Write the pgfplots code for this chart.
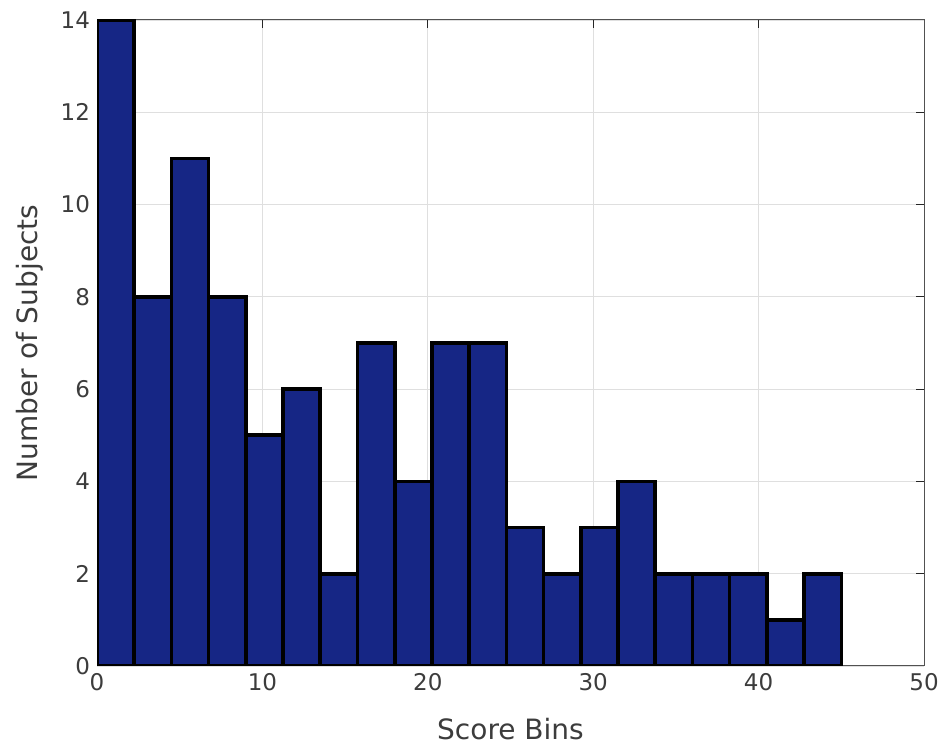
\documentclass[border=0pt]{standalone}
\usepackage{pgfplots}
\pgfplotsset{compat=1.18}
\usepackage{fontspec}
\setmainfont{DejaVu Sans}
\definecolor{barblue}{RGB}{22,38,133}
\definecolor{axgray}{RGB}{38,38,38}
\definecolor{txtgray}{RGB}{60,60,60}
\begin{document}
\begin{tikzpicture}
\useasboundingbox (-48.5pt,-40.5pt) rectangle (424pt,333pt);
\begin{axis}[
  at={(0,0)}, anchor=south west,
  width=413.5pt, height=323pt, scale only axis,
  xmin=0, xmax=50, ymin=0, ymax=14,
  xtick={0,10,...,50}, ytick={0,2,...,14},
  axis line style={axgray!80, line width=0.5pt},
  tick style={axgray, line width=0.5pt},
  tick align=inside, major tick length=4pt,
  xtick pos=both, ytick pos=both,
  grid=major, major grid style={gray!25, line width=0.4pt},
  ticklabel style={font=\fontsize{11.5}{13}\selectfont, text=txtgray},
  label style={font=\fontsize{14}{16}\selectfont, text=txtgray},
  xlabel={Score Bins}, ylabel={Number of Subjects},
  xlabel style={yshift=-7pt},
  ylabel style={yshift=2pt},
  /pgf/number format/assume math mode=true,
]
\addplot[ybar interval, fill=barblue, draw=black, line width=1.8pt] coordinates {
(0,14) (2.25,8) (4.5,11) (6.75,8) (9,5) (11.25,6) (13.5,2) (15.75,7) (18,4) (20.25,7)
(22.5,7) (24.75,3) (27,2) (29.25,3) (31.5,4) (33.75,2) (36,2) (38.25,2) (40.5,1) (42.75,2) (45,2)
};
\end{axis}
\end{tikzpicture}
\end{document}
